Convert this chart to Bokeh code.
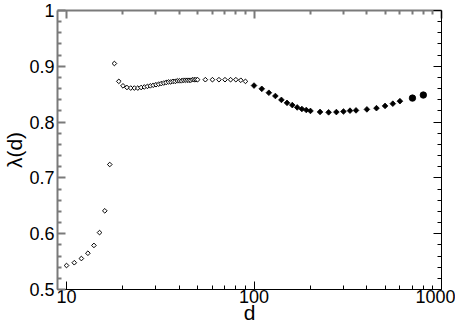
from bokeh.plotting import figure
from bokeh.models import Range1d, LogAxis, LinearAxis, FixedTicker, CustomJSTickFormatter
from bokeh.embed import file_html
from bokeh.resources import INLINE
import math

# ---- data ----
d_open = [10, 11, 12, 13, 14, 15, 16, 17, 18, 19, 20, 21, 22, 23, 24, 25, 26, 27, 28, 29,
          30, 31, 32, 33, 34, 35, 36, 37, 38, 39, 40, 41, 42, 43, 44, 45, 46, 47, 48, 49, 50,
          55, 60, 65, 70, 75, 80, 85, 90]
lam_open = [0.543, 0.548, 0.5555, 0.565, 0.579, 0.602, 0.641, 0.724, 0.905, 0.873, 0.865,
            0.862, 0.861, 0.861, 0.861, 0.862, 0.863, 0.864, 0.865, 0.866,
            0.867, 0.868, 0.869, 0.870, 0.871, 0.872, 0.872, 0.873, 0.873, 0.874,
            0.874, 0.874, 0.875, 0.875, 0.875, 0.875, 0.875, 0.876, 0.876, 0.876, 0.876,
            0.876, 0.876, 0.876, 0.876, 0.876, 0.876, 0.875, 0.873]

d_filled = [100, 110, 120, 130, 140, 150, 160, 170, 180, 190, 200,
            225, 250, 275, 300, 325, 350, 400, 450, 500, 550, 600]
lam_filled = [0.8655, 0.8596, 0.8526, 0.8468, 0.8398, 0.8345, 0.8305, 0.8263, 0.8235, 0.8217, 0.820,
              0.8182, 0.8175, 0.818, 0.819, 0.8205, 0.821, 0.8228, 0.825, 0.829, 0.833, 0.8375]

d_big = [700, 800]
lam_big = [0.843, 0.8485]

x_ticks = [10, 100, 1000]
x_minor = [20, 30, 40, 50, 60, 70, 80, 90, 200, 300, 400, 500, 600, 700, 800, 900]
y_ticks = [0.5, 0.6, 0.7, 0.8, 0.9, 1.0]
y_minor = [0.52, 0.54, 0.56, 0.58, 0.62, 0.64, 0.66, 0.68, 0.72, 0.74, 0.76, 0.78,
           0.82, 0.84, 0.86, 0.88, 0.92, 0.94, 0.96, 0.98]
x_label = "d"
y_label = "λ(d)"

FONT = "Liberation Sans"
X_LO, X_HI = 8.95, 1000
Y_LO, Y_HI = 0.5, 1.0

p = figure(width=455, height=326, x_axis_type="log",
           x_range=Range1d(X_LO, X_HI), y_range=Range1d(Y_LO, Y_HI),
           output_backend="svg", toolbar_location=None,
           min_border_left=0, min_border_right=14, min_border_top=10, min_border_bottom=0)
p.grid.visible = False
p.outline_line_color = None
p.background_fill_color = "white"
p.border_fill_color = "white"

xt = FixedTicker(ticks=x_ticks, minor_ticks=x_minor)
yt = FixedTicker(ticks=y_ticks, minor_ticks=y_minor)
fmt = CustomJSTickFormatter(code="return tick.toString()")
blank = CustomJSTickFormatter(code="return ''")


def style(ax, color, width):
    ax.axis_line_color = color
    ax.axis_line_width = width
    ax.major_tick_line_color = color
    ax.minor_tick_line_color = color
    ax.major_tick_line_width = width
    ax.minor_tick_line_width = width
    ax.major_tick_in = 8
    ax.major_tick_out = 0
    ax.minor_tick_in = 4
    ax.minor_tick_out = 0


xa = p.xaxis[0]
xa.ticker = xt
xa.formatter = fmt
style(xa, "black", 1)
xa.axis_label = x_label
xa.axis_label_text_font = FONT
xa.axis_label_text_font_size = "21px"
xa.axis_label_text_font_style = "normal"
xa.axis_label_text_color = "black"
xa.axis_label_standoff = -5
xa.major_label_text_font = FONT
xa.major_label_text_font_size = "18px"
xa.major_label_standoff = 0
xa.major_label_text_color = "black"

ya = p.yaxis[0]
ya.ticker = yt
ya.formatter = fmt
style(ya, "#7a7a7a", 2)
ya.axis_label = y_label
ya.axis_label_text_font = FONT
ya.axis_label_text_font_size = "21px"
ya.axis_label_text_font_style = "normal"
ya.axis_label_text_color = "black"
ya.axis_label_standoff = 0
ya.major_label_text_font = FONT
ya.major_label_text_font_size = "18px"
ya.major_label_standoff = 3
ya.major_label_text_color = "black"

top = LogAxis(ticker=xt, formatter=blank, major_label_text_font_size="0px",
              major_label_standoff=0)
style(top, "#7a7a7a", 2)
p.add_layout(top, "above")

right = LinearAxis(ticker=yt, formatter=blank, major_label_text_font_size="0px",
                   major_label_standoff=0)
style(right, "black", 1)
p.add_layout(right, "right")

p.scatter(d_open, lam_open, marker="square", angle=math.pi / 4, size=3.3,
          fill_color="white", line_color="black", line_width=1)
p.scatter(d_filled, lam_filled, marker="square", angle=math.pi / 4, size=4,
          fill_color="black", line_color="black", line_width=0.8)
p.scatter(d_big, lam_big, marker="circle", size=6.5,
          fill_color="black", line_color="black", line_width=0.8)

open("out.html", "w").write(file_html(p, INLINE))
